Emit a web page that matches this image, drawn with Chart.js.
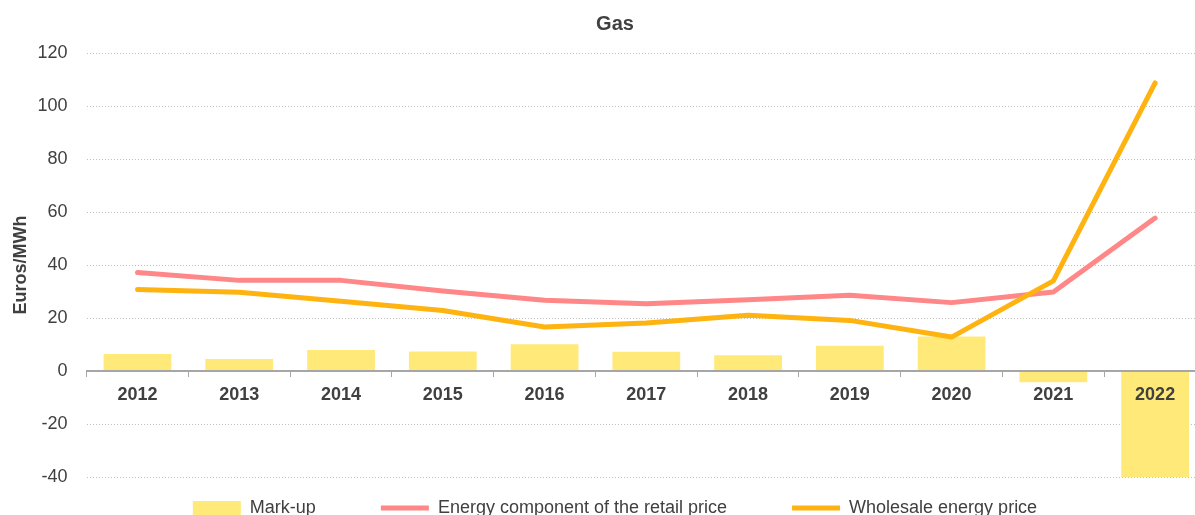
<!DOCTYPE html>
<html>
<head>
<meta charset="utf-8">
<title>Gas</title>
<script src="https://cdn.jsdelivr.net/npm/chart.js@4/dist/chart.umd.min.js"></script>
<style>
    body { margin: 0; overflow: hidden; background: #fff; }
    #contenedor { position: relative; width: 1230px; height: 570px; }
</style>
</head>
<body>
<div id="contenedor"><canvas id="graficoGas"></canvas></div>
<script>
const anios = ['2012', '2013', '2014', '2015', '2016', '2017', '2018', '2019', '2020', '2021', '2022'];
const margen = [6.4, 4.5, 7.9, 7.4, 10.1, 7.3, 5.9, 9.5, 13.0, -4.2, -41.0];
const componenteMinorista = [37.2, 34.2, 34.2, 30.2, 26.7, 25.4, 26.9, 28.6, 25.8, 29.8, 57.7];
const precioMayorista = [30.8, 29.7, 26.3, 22.8, 16.6, 18.1, 21.0, 19.1, 12.8, 34.0, 108.7];
const ticksY = [-40, -20, 0, 20, 40, 60, 80, 100, 120];

const fuente = 'Liberation Sans, Arial, sans-serif';
const gris = '#404040';

// Titulo y leyenda centrados en todo el canvas; la fila de la leyenda pegada al grafico
const colocarCajas = {
    id: 'colocarCajas',
    afterLayout(chart) {
        [chart.titleBlock, chart.legend].forEach(function (caja) {
            caja.left = 0;
            caja.right = chart.width;
            caja.width = chart.width;
        });
        const leyenda = chart.legend;
        const alto = leyenda.height;
        leyenda.top = chart.chartArea.bottom + 22 - leyenda.options.labels.padding;
        leyenda.bottom = leyenda.top + alto;
    }
};

const ctx = document.getElementById('graficoGas').getContext('2d');
new Chart(ctx, {
    type: 'bar',
    data: {
        labels: anios,
        datasets: [
            {
                type: 'bar',
                label: 'Mark-up',
                data: margen,
                backgroundColor: '#FFE979',
                borderWidth: 0,
                categoryPercentage: 1,
                barPercentage: 0.666,
                pointStyle: 'rect',
                order: 3
            },
            {
                type: 'line',
                label: 'Energy component of the retail price',
                data: componenteMinorista,
                borderColor: '#FF8787',
                backgroundColor: '#FF8787',
                borderWidth: 5,
                borderCapStyle: 'round',
                borderJoinStyle: 'round',
                pointRadius: 0,
                pointStyle: 'line',
                tension: 0,
                order: 2
            },
            {
                type: 'line',
                label: 'Wholesale energy price',
                data: precioMayorista,
                borderColor: '#FFB310',
                backgroundColor: '#FFB310',
                borderWidth: 5,
                borderCapStyle: 'round',
                borderJoinStyle: 'round',
                pointRadius: 0,
                pointStyle: 'line',
                tension: 0,
                order: 1
            }
        ]
    },
    options: {
        responsive: true,
        maintainAspectRatio: false,
        animation: false,
        devicePixelRatio: 1,
        layout: {
            padding: { top: 2, left: 10, right: 24, bottom: 0 }
        },
        plugins: {
            title: {
                display: true,
                text: 'Gas',
                color: gris,
                font: { family: fuente, size: 20, weight: 'bold' },
                padding: { top: 10, bottom: 17 }
            },
            legend: {
                position: 'bottom',
                labels: {
                    usePointStyle: true,
                    pointStyleWidth: 48,
                    boxHeight: 14,
                    padding: 65,
                    color: gris,
                    font: { family: fuente, size: 18 },
                    sort: function (a, b) { return a.datasetIndex - b.datasetIndex; }
                }
            },
            tooltip: { enabled: false }
        },
        scales: {
            x: {
                type: 'category',
                position: { y: 0 },
                offset: true,
                grid: {
                    display: true,
                    drawOnChartArea: false,
                    drawTicks: true,
                    tickLength: 5,
                    color: '#A6A6A6',
                    offset: true,
                    z: 1
                },
                // eje del cero y etiquetas por encima de las barras
                border: { display: true, color: '#A6A6A6', width: 2, z: 1 },
                ticks: {
                    color: gris,
                    maxRotation: 0,
                    padding: 8,
                    z: 1,
                    font: { family: fuente, size: 18, weight: 'bold' }
                }
            },
            y: {
                min: -40,
                max: 120,
                afterBuildTicks: function (escala) {
                    escala.ticks = ticksY.map(function (v) { return { value: v }; });
                },
                grid: {
                    color: '#BFBFBF',
                    lineWidth: 1,
                    drawTicks: true,
                    tickLength: 19,
                    tickColor: 'rgba(0,0,0,0)'
                },
                border: { display: false, dash: [1, 2] },
                ticks: {
                    color: gris,
                    padding: 0,
                    font: { family: fuente, size: 18 }
                },
                title: {
                    display: true,
                    text: 'Euros/MWh',
                    color: gris,
                    font: { family: fuente, size: 18, weight: 'bold' },
                    padding: { top: 0, bottom: 6 }
                }
            }
        }
    },
    plugins: [colocarCajas]
});
</script>
</body>
</html>
